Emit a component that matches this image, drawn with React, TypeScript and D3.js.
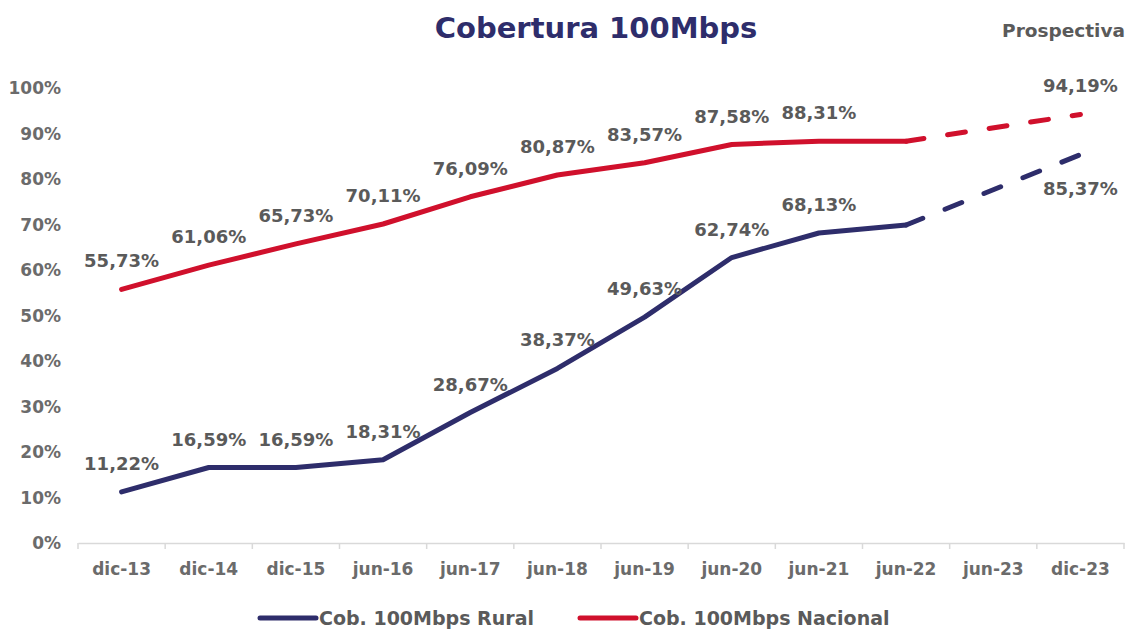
import { useEffect, useRef } from "react"
import * as d3 from "d3"

const categories = ["dic-13", "dic-14", "dic-15", "jun-16", "jun-17", "jun-18", "jun-19", "jun-20", "jun-21", "jun-22", "jun-23", "dic-23"]
const rural = [11.22, 16.59, 16.59, 18.31, 28.67, 38.37, 49.63, 62.74, 68.13, 69.9, null, 85.37]
const nacional = [55.73, 61.06, 65.73, 70.11, 76.09, 80.87, 83.57, 87.58, 88.31, 88.31, null, 94.19]
// index where the projection (dashed) starts
const projStart = 9
const unlabeled = [9]
const yTicks = [0, 10, 20, 30, 40, 50, 60, 70, 80, 90, 100]

const NAVY = "#2e2d6b"
const RED = "#d0102c"
const GRAY = "#5a5a5a"
const TICK = "#6b6b6b"
const FONT = "'DejaVu Sans', 'Noto Sans', sans-serif"

const fmt = (v: number) => v.toFixed(2).replace(".", ",") + "%"

export default function App() {
    const svgRef = useRef(null)

    useEffect(() => {
        document.body.style.margin = "0"
        const width = 1132
        const height = 630
        const margin = { top: 88, right: 8, bottom: 87, left: 78 }

        const svg = d3.select(svgRef.current)
        svg.selectAll("*").remove()
        svg.attr("width", width).attr("height", height)

        const x = d3
            .scaleBand()
            .domain(categories)
            .range([margin.left, width - margin.right])

        const y = d3
            .scaleLinear()
            .domain([0, 100])
            .range([height - margin.bottom, margin.top])

        const cx = (i) => x(categories[i]) + x.bandwidth() / 2

        // title
        svg.append("text")
            .attr("x", 596)
            .attr("y", 38)
            .attr("text-anchor", "middle")
            .attr("font-family", FONT)
            .attr("font-weight", 700)
            .attr("font-size", 29)
            .attr("fill", NAVY)
            .text("Cobertura 100Mbps")

        svg.append("text")
            .attr("x", 1125)
            .attr("y", 37)
            .attr("text-anchor", "end")
            .attr("font-family", FONT)
            .attr("font-weight", 700)
            .attr("font-size", 18.5)
            .attr("fill", GRAY)
            .text("Prospectiva")

        // y tick labels
        svg.append("g")
            .selectAll("text")
            .data(yTicks)
            .enter()
            .append("text")
            .attr("x", 61)
            .attr("y", (d) => y(d) + 6)
            .attr("text-anchor", "end")
            .attr("font-family", FONT)
            .attr("font-weight", 700)
            .attr("font-size", 17)
            .attr("fill", TICK)
            .text((d) => d + "%")

        // x axis
        const xAxis = svg.append("g")
            .attr("transform", `translate(0,${y(0)})`)
            .call(d3.axisBottom(x).tickSize(0).tickPadding(20))
        xAxis.select(".domain").attr("stroke", "#d9d9d9").attr("stroke-width", 1.5)
        xAxis.selectAll("text")
            .attr("font-family", FONT)
            .attr("font-weight", 700)
            .attr("font-size", 17)
            .attr("fill", TICK)
        const bounds = categories.map((c) => x(c)).concat([x(categories[categories.length - 1]) + x.bandwidth()])
        xAxis.selectAll(".sep")
            .data(bounds)
            .enter()
            .append("line")
            .attr("x1", (d) => d)
            .attr("x2", (d) => d)
            .attr("y1", 0)
            .attr("y2", 6)
            .attr("stroke", "#d9d9d9")
            .attr("stroke-width", 1.5)

        const series = [
            { values: nacional, color: RED, below: false },
            { values: rural, color: NAVY, below: true },
        ]

        const line = d3
            .line<[number, number]>()
            .x((d) => cx(d[0]))
            .y((d) => y(d[1]))

        series.forEach((s) => {
            const pts = s.values.map((v, i) => [i, v]).filter((d) => d[1] != null)
            const solid = pts.filter((d) => d[0] <= projStart)
            const dashed = pts.filter((d) => d[0] >= projStart)
            svg.append("path")
                .attr("d", line(solid))
                .attr("fill", "none")
                .attr("stroke", s.color)
                .attr("stroke-width", 5)
                .attr("stroke-linejoin", "round")
                .attr("stroke-linecap", "round")
            svg.append("path")
                .attr("d", line(dashed))
                .attr("fill", "none")
                .attr("stroke", s.color)
                .attr("stroke-width", 5)
                .attr("stroke-linecap", "round")
                .attr("stroke-dasharray", "18,24")

            const labelled = pts.filter((d) => !unlabeled.includes(d[0]))
            svg.append("g")
                .selectAll("text")
                .data(labelled)
                .enter()
                .append("text")
                .attr("x", (d) => cx(d[0]))
                .attr("y", (d) => {
                    const last = d[0] === categories.length - 1
                    return last && s.below ? y(d[1]) + 40 : y(d[1]) - 22
                })
                .attr("text-anchor", "middle")
                .attr("font-family", FONT)
                .attr("font-weight", 700)
                .attr("font-size", 18)
                .attr("fill", GRAY)
                .text((d) => fmt(d[1]))
        })

        // legend
        const legend = [
            { name: "Cob. 100Mbps Rural", color: NAVY, x: 258 },
            { name: "Cob. 100Mbps Nacional", color: RED, x: 578 },
        ]
        const lg = svg.append("g").attr("transform", "translate(0,618)")
        legend.forEach((l) => {
            lg.append("line")
                .attr("x1", l.x + 2)
                .attr("x2", l.x + 58)
                .attr("y1", 0)
                .attr("y2", 0)
                .attr("stroke", l.color)
                .attr("stroke-width", 5)
                .attr("stroke-linecap", "round")
            lg.append("text")
                .attr("x", l.x + 61)
                .attr("y", 7)
                .attr("font-family", FONT)
                .attr("font-weight", 700)
                .attr("font-size", 19)
                .attr("fill", GRAY)
                .text(l.name)
        })
    }, [])

    return (
        <div>
            <svg ref={svgRef}></svg>
        </div>
    )
}
